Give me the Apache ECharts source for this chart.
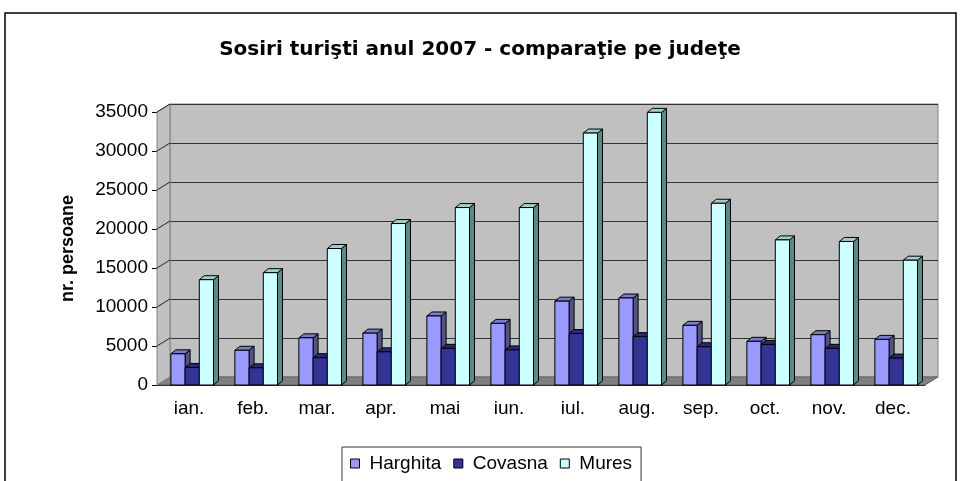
<!DOCTYPE html>
<html>
<head>
<meta charset="utf-8">
<script src="https://cdn.jsdelivr.net/npm/echarts@6/dist/echarts.min.js"></script>
<style>
  html, body { margin: 0; padding: 0; background: #fff; }
  #chart { width: 960px; height: 481px; }
</style>
</head>
<body>
<div id="chart"></div>
<script>
const months = ['ian.', 'feb.', 'mar.', 'apr.', 'mai', 'iun.', 'iul.', 'aug.', 'sep.', 'oct.', 'nov.', 'dec.']
const harghita = [4000, 4450, 6050, 6650, 8850, 7900, 10750, 11150, 7650, 5600, 6450, 5850]
const covasna = [2250, 2200, 3500, 4250, 4700, 4500, 6600, 6200, 4900, 5200, 4700, 3450]
const mures = [13500, 14400, 17500, 20700, 22750, 22750, 32300, 34950, 23300, 18600, 18400, 16000]
const yTicks = [0, 5000, 10000, 15000, 20000, 25000, 30000, 35000]

const FONT = 'Liberation Sans, Arial, sans-serif'
// offset of the back wall (3D depth) and of a single column
const wallDx = 13
const wallDy = 8
const barDx = 5
const barDy = 4

const chart = echarts.init(document.getElementById('chart'))

function pairs (arr) {
  return arr.map((v, i) => [i, v])
}

// draws one column as front face + top + right side
function columnRenderer (slot, front, top, side) {
  return function (params, api) {
    const ci = api.value(0)
    const pTop = api.coord([ci, api.value(1)])
    const pBase = api.coord([ci, 0])
    const bw = api.size([1, 0])[0]
    const w = bw * 0.222
    const x0 = pTop[0] - 1.5 * w + bw * 0.05 + slot * w
    const ty = pTop[1]
    const by = pBase[1]
    const line = { stroke: '#000', lineWidth: 1 }
    return {
      type: 'group',
      children: [
        {
          type: 'polygon',
          shape: { points: [[x0 + w, ty], [x0 + w + barDx, ty - barDy], [x0 + w + barDx, by - barDy], [x0 + w, by]] },
          style: Object.assign({ fill: side }, line)
        },
        {
          type: 'polygon',
          shape: { points: [[x0, ty], [x0 + barDx, ty - barDy], [x0 + w + barDx, ty - barDy], [x0 + w, ty]] },
          style: Object.assign({ fill: top }, line)
        },
        {
          type: 'rect',
          shape: { x: x0, y: ty, width: w, height: by - ty },
          style: Object.assign({ fill: front }, line)
        }
      ]
    }
  }
}

// floor and left wall, built from the axis scale
function wallsRenderer (params, api) {
  const bw = api.size([1, 0])[0]
  const left = api.coord([0, 0])[0] - bw / 2
  const right = api.coord([months.length - 1, 0])[0] + bw / 2
  const yb = api.coord([0, 0])[1]
  const yt = api.coord([0, yTicks[yTicks.length - 1]])[1]
  const children = [
    {
      type: 'polygon',
      shape: { points: [[left, yb], [right, yb], [right + wallDx, yb - wallDy], [left + wallDx, yb - wallDy]] },
      style: { fill: '#808080', stroke: '#606060', lineWidth: 1 }
    },
    {
      type: 'polygon',
      shape: { points: [[left, yb], [left, yt], [left + wallDx, yt - wallDy], [left + wallDx, yb - wallDy]] },
      style: { fill: '#c0c0c0', stroke: '#808080', lineWidth: 1 }
    }
  ]
  yTicks.forEach(t => {
    const y = api.coord([0, t])[1]
    children.push({
      type: 'line',
      shape: { x1: left, y1: y, x2: left + wallDx, y2: y - wallDy },
      style: { stroke: t === 0 ? '#808080' : '#222', lineWidth: 1 }
    })
  })
  return { type: 'group', children }
}

chart.setOption({
  animation: false,
  textStyle: { fontFamily: FONT },
  title: {
    text: 'Sosiri turişti anul 2007 - comparaţie pe judeţe',
    left: 'center',
    top: 35,
    textStyle: { fontFamily: 'DejaVu Sans', fontSize: 20, fontWeight: 'bold', color: '#000' }
  },
  legend: {
    left: 342,
    top: 447,
    icon: 'rect',
    itemWidth: 9,
    itemHeight: 9,
    itemGap: 12,
    padding: [7, 9, 20, 8],
    borderColor: '#333',
    borderWidth: 1,
    itemStyle: { borderColor: '#000', borderWidth: 1 },
    textStyle: { fontFamily: FONT, fontSize: 19, color: '#000', padding: [0, 0, 0, 5] },
    data: ['Harghita', 'Covasna', 'Mures']
  },
  graphic: [{
    type: 'rect',
    shape: { x: 5, y: 13, width: 951, height: 480 },
    style: { fill: 'none', stroke: '#000', lineWidth: 1.5 },
    silent: true
  }],
  grid: [
    { left: 157, right: 35, top: 112, bottom: 96 },
    { left: 170, right: 22, top: 104, bottom: 104, show: true, backgroundColor: '#c0c0c0', borderColor: '#808080', borderWidth: 1 }
  ],
  xAxis: [
    {
      type: 'category',
      gridIndex: 0,
      data: months,
      axisLine: { lineStyle: { color: '#000', width: 1 } },
      axisTick: { length: 6, lineStyle: { color: '#000' } },
      axisLabel: { fontFamily: FONT, fontSize: 19, color: '#000', margin: 14 }
    },
    { type: 'category', gridIndex: 1, data: months, show: false }
  ],
  yAxis: [
    {
      type: 'value',
      gridIndex: 0,
      min: 0,
      max: 35000,
      interval: 5000,
      name: 'nr. persoane',
      nameLocation: 'middle',
      nameGap: 80,
      nameTextStyle: { fontFamily: FONT, fontSize: 18, fontWeight: 'bold', color: '#000' },
      axisLine: { show: true, lineStyle: { color: '#000', width: 1 } },
      axisTick: { show: true, length: 5, lineStyle: { color: '#000' } },
      axisLabel: { fontFamily: FONT, fontSize: 19, color: '#000', margin: 9, formatter: v => String(v) },
      splitLine: { show: false }
    },
    {
      type: 'value',
      gridIndex: 1,
      min: 0,
      max: 35000,
      interval: 5000,
      axisLine: { show: false },
      axisTick: { show: false },
      axisLabel: { show: false },
      splitLine: { show: true, lineStyle: { color: '#333', width: 1 } }
    }
  ],
  series: [
    {
      name: 'walls',
      type: 'custom',
      xAxisIndex: 0,
      yAxisIndex: 0,
      z: 1,
      silent: true,
      renderItem: wallsRenderer,
      data: [[0, 0]]
    },
    {
      name: 'Harghita',
      type: 'custom',
      z: 3,
      itemStyle: { color: '#9999ff' },
      renderItem: columnRenderer(0, '#9999ff', '#7a7acc', '#52528a'),
      encode: { x: 0, y: 1 },
      data: pairs(harghita)
    },
    {
      name: 'Covasna',
      type: 'custom',
      z: 3,
      itemStyle: { color: '#333399' },
      renderItem: columnRenderer(1, '#333399', '#29297a', '#1f1f5c'),
      encode: { x: 0, y: 1 },
      data: pairs(covasna)
    },
    {
      name: 'Mures',
      type: 'custom',
      z: 3,
      itemStyle: { color: '#ccffff' },
      renderItem: columnRenderer(2, '#ccffff', '#a3cccc', '#5f8585'),
      encode: { x: 0, y: 1 },
      data: pairs(mures)
    }
  ]
})
</script>
</body>
</html>
